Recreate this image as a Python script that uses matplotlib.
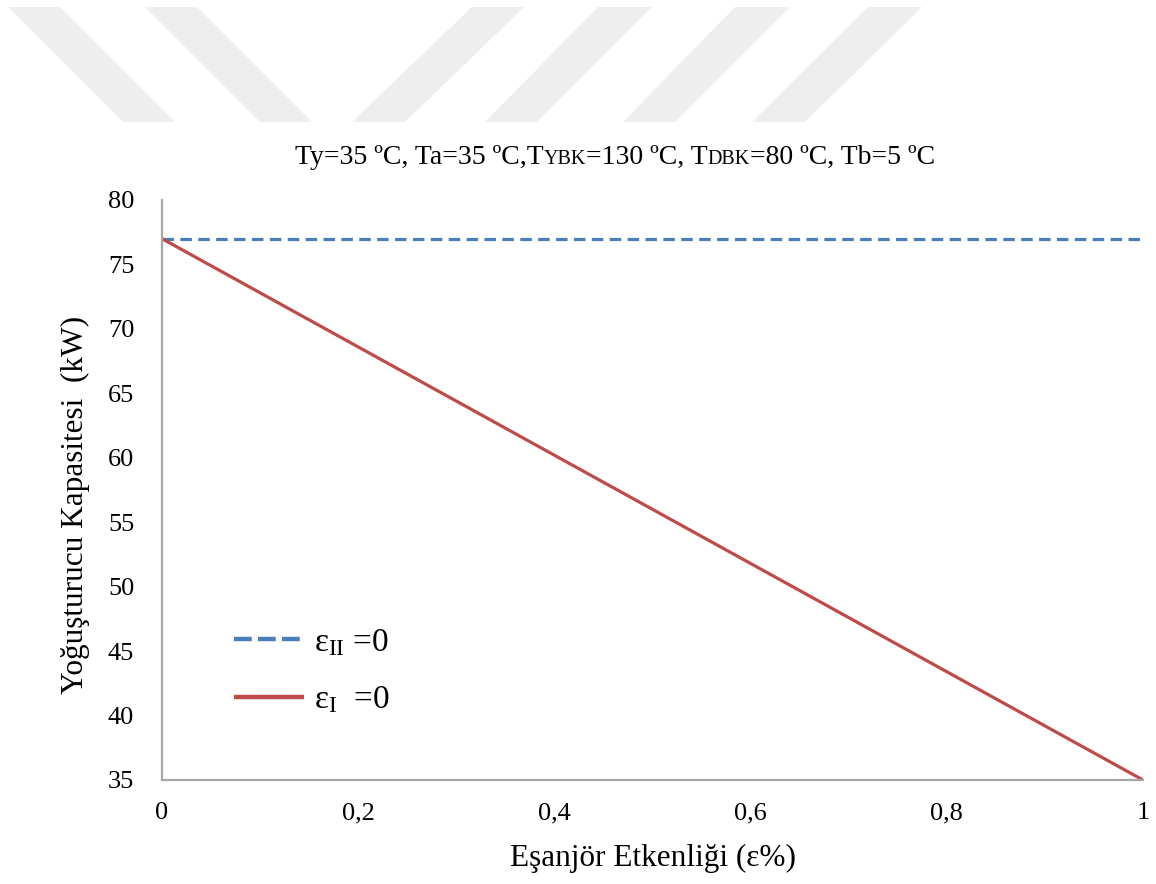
import matplotlib
matplotlib.use("Agg")
import matplotlib.pyplot as plt
from matplotlib.patches import Polygon
from matplotlib.offsetbox import TextArea, HPacker, AnchoredOffsetbox

plt.rcParams['font.family'] = ['Liberation Serif', 'DejaVu Serif']
plt.rcParams['mathtext.fontset'] = 'custom'
plt.rcParams['mathtext.rm'] = 'Liberation Serif'
plt.rcParams['mathtext.it'] = 'Liberation Serif:italic'

# exchanger effectiveness and condenser capacity (kW)
etkenlik = [0, 1]
eps_II = [77, 77]
eps_I = [77, 35]

x_ticks = [0, 0.2, 0.4, 0.6, 0.8, 1]
x_labels = ["0", "0,2", "0,4", "0,6", "0,8", "1"]
y_ticks = [35, 40, 45, 50, 55, 60, 65, 70, 75, 80]

W, H = 1156, 884
fig = plt.figure(figsize=(W / 100, H / 100), dpi=100)

# faded diagonal bands along the top edge (pixel coords, origin top-left)
top, bot = 7, 122
bands = [
    (8, 60, 123, 175),
    (145, 197, 260, 312),
    (472, 524, 352, 405),
    (598, 652, 485, 537),
    (735, 790, 623, 675),
    (868, 922, 752, 805),
]
for x0, x1, x2, x3 in bands:
    pts = [(x0, top), (x1, top), (x3, bot), (x2, bot)]
    pts = [(px / W, 1 - py / H) for px, py in pts]
    fig.patches.append(Polygon(pts, closed=True, transform=fig.transFigure,
                               facecolor='#eeeeee', edgecolor='none', zorder=0))

ax = fig.add_axes([162 / W, 1 - 780 / H, (1143 - 162) / W, (780 - 200) / H])
ax.patch.set_alpha(0)

ax.plot(etkenlik, eps_II, color='#4a7ebb', lw=2.3, dashes=(3.6, 2.0),
        label=r'ε$_{\mathrm{II}}$ =0')
ax.plot(etkenlik, eps_I, color='#be4b48', lw=2.3, solid_capstyle='butt',
        label=r'ε$_{\mathrm{I}}$  =0')

ax.set_xlim(0, 1)
ax.set_ylim(35, 80)
ax.set_xticks(x_ticks)
ax.set_xticklabels(x_labels)
ax.set_yticks(y_ticks)
ax.tick_params(length=0, labelsize=19, colors='black')
ax.tick_params(axis='y', pad=20)
ax.tick_params(axis='x', pad=16)

for side in ['top', 'right']:
    ax.spines[side].set_visible(False)
for side in ['left', 'bottom']:
    ax.spines[side].set_color('#a6a6a6')
    ax.spines[side].set_linewidth(1.6)

ax.set_xlabel('Eşanjör Etkenliği (ε%)', fontsize=22.5, labelpad=14)
ax.set_ylabel('Yoğuşturucu Kapasitesi  (kW)', fontsize=22.5)
ax.yaxis.set_label_coords(-0.073, 0.474)

leg = ax.legend(loc='lower left', bbox_to_anchor=(0.043, 0.06), frameon=False,
                fontsize=24, handlelength=2.1, handletextpad=0.3,
                labelspacing=0.8)
for h in leg.get_lines():
    h.set_linewidth(3.2)
leg.get_lines()[0].set_dashes((4.0, 1.4))

# title with small-caps style subscripts on the baseline
big, small = 20, 14.5
parts = [("Ty=35 ºC, Ta=35 ºC,T", big), ("YBK", small), ("=130 ºC, T", big),
         ("DBK", small), ("=80 ºC, Tb=5 ºC", big)]
areas = [TextArea(t, textprops=dict(fontsize=s, family='Liberation Serif'))
         for t, s in parts]
box = HPacker(children=areas, align='baseline', pad=0, sep=0)
title = AnchoredOffsetbox(loc='center', child=box, frameon=False,
                          bbox_to_anchor=(615 / W, 1 - 157 / H),
                          bbox_transform=fig.transFigure, pad=0, borderpad=0)
fig.add_artist(title)

fig.savefig('out.png', dpi=100)
